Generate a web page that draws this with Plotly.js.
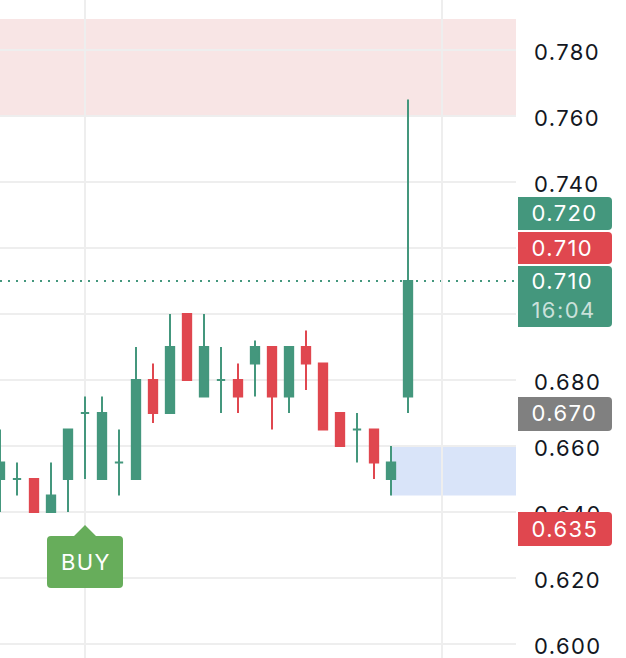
<!DOCTYPE html>
<html>
<head>
<meta charset="utf-8">
<script src="https://cdn.plot.ly/plotly-3.0.1.min.js"></script>
<style>
  html, body { margin: 0; padding: 0; background: #ffffff; }
  #chart { width: 626px; height: 658px; }
  #chart .ytick text, #chart .annotation-text { letter-spacing: 1.4px; }
</style>
</head>
<body>
<div id="chart"></div>
<script>
// ---------------- data ----------------
const candleIndex = [0,1,2,3,4,5,6,7,8,9,10,11,12,13,14,15,16,17,18,19,20,21,22,23,24];
const openVals  = [0.650,0.650,0.650,0.640,0.650,0.670,0.650,0.655,0.650,0.680,0.670,0.700,0.675,0.680,0.680,0.685,0.690,0.675,0.690,0.685,0.670,0.665,0.665,0.650,0.675];
const highVals  = [0.665,0.655,0.650,0.655,0.665,0.675,0.675,0.665,0.690,0.685,0.700,0.700,0.700,0.690,0.685,0.692,0.690,0.690,0.695,0.685,0.670,0.670,0.665,0.660,0.765];
const lowVals   = [0.640,0.645,0.640,0.640,0.640,0.650,0.650,0.645,0.650,0.667,0.670,0.680,0.675,0.670,0.670,0.675,0.665,0.670,0.677,0.665,0.660,0.655,0.650,0.645,0.670];
const closeVals = [0.655,0.650,0.640,0.645,0.665,0.670,0.670,0.655,0.680,0.670,0.690,0.680,0.690,0.680,0.675,0.690,0.675,0.690,0.685,0.665,0.660,0.665,0.655,0.655,0.710];

const yTickVals  = [0.600,0.620,0.640,0.660,0.680,0.700,0.720,0.740,0.760,0.780];
// 0.700 and 0.720 sit fully under the price labels, so their text is left empty
const yTickTexts = ["0.600","0.620","0.640","0.660","0.680","","","0.740","0.760","0.780"];
const gridXVals = [5, 26];

const resistanceZone = [0.760, 0.7894];   // pink band
const supportZone    = [0.645, 0.660];    // blue band
const supportStart   = 23;
const lastPrice      = 0.710;

// right-hand price labels: text, colour, centre value, box top px, box bottom px
const labelTexts  = ["0.720", "0.710", "0.710", "0.670", "0.635"];
const labelColors = ["#44977d", "#e0474f", "#44977d", "#808080", "#e0474f"];
const labelValues = [0.7305, 0.720, 0.710, 0.670, 0.6348];
const labelBoxTop = [197, 232, 266, 397, 512];
const labelBoxBot = [230, 264, 327, 431, 546];
const timeLabel   = "16:04";
const timeLabelValue = 0.7013;

const buyIndex = 5;
const buyText = "BUY";

// ---------------- styling ----------------
const GREEN = "#44977d", RED = "#e0474f", BUYGREEN = "#67ad5b";
const W = 626, H = 658, PLOT_W = 516;
const yRange = [0.59576, 0.79515];
const xRange = [0, PLOT_W / 17];
const pxPerY = H / (yRange[1] - yRange[0]);
const pxPerX = PLOT_W / (xRange[1] - xRange[0]);
const yAt = py => yRange[1] - py / pxPerY;      // pixel row -> value
const dy = p => p / pxPerY;                     // pixel height -> value
const dx = p => p / pxPerX;                     // pixel width -> x units
const px = p => p / PLOT_W;                     // pixel column -> paper x

const up = candleIndex.map(i => closeVals[i] >= openVals[i]);
function pick(arr, flag) { return arr.filter((_, i) => up[i] === flag); }

function candleTrace(flag, color) {
  const style = { line: { color: color, width: 2 }, fillcolor: color };
  return {
    type: "candlestick",
    x: pick(candleIndex, flag),
    open: pick(openVals, flag), high: pick(highVals, flag),
    low: pick(lowVals, flag), close: pick(closeVals, flag),
    increasing: style, decreasing: style,
    whiskerwidth: 0, hoverinfo: "skip", showlegend: false
  };
}

const shapes = [];
shapes.push({ type: "rect", xref: "x", yref: "y", x0: -1, x1: xRange[1] + 1,
  y0: resistanceZone[0], y1: resistanceZone[1], fillcolor: "#f8e5e5", line: { width: 0 }, layer: "below" });
shapes.push({ type: "rect", xref: "x", yref: "y", x0: supportStart, x1: xRange[1] + 1,
  y0: supportZone[0], y1: supportZone[1], fillcolor: "#d9e4f9", line: { width: 0 }, layer: "below" });
shapes.push({ type: "line", xref: "paper", yref: "y", x0: 0, x1: 1, y0: lastPrice, y1: lastPrice,
  line: { color: GREEN, width: 2, dash: "2px,6px" }, layer: "below" });

// right label boxes (square left, rounded right)
const r = 4;
labelTexts.forEach((t, i) => {
  const x0 = px(518), x1 = px(612), xr = px(612 - r);
  const yT = yAt(labelBoxTop[i]), yB = yAt(labelBoxBot[i]);
  const path = `M ${x0},${yT} L ${xr},${yT} Q ${x1},${yT} ${x1},${yT - dy(r)} ` +
               `L ${x1},${yB + dy(r)} Q ${x1},${yB} ${xr},${yB} L ${x0},${yB} Z`;
  shapes.push({ type: "path", xref: "paper", yref: "y", path: path,
    fillcolor: labelColors[i], line: { width: 0 }, layer: "above" });
});

// BUY marker box with pointer (pixel offsets relative to the marker candle)
(function () {
  const cx = buyIndex;
  const L = cx - dx(38), R = cx + dx(38);
  const T = yAt(536), B = yAt(588), tip = yAt(525);
  const rr = 4;
  const path = `M ${L + dx(rr)},${T} L ${cx - dx(11)},${T} L ${cx},${tip} L ${cx + dx(11)},${T} ` +
    `L ${R - dx(rr)},${T} Q ${R},${T} ${R},${T - dy(rr)} L ${R},${B + dy(rr)} Q ${R},${B} ${R - dx(rr)},${B} ` +
    `L ${L + dx(rr)},${B} Q ${L},${B} ${L},${B + dy(rr)} L ${L},${T - dy(rr)} Q ${L},${T} ${L + dx(rr)},${T} Z`;
  shapes.push({ type: "path", xref: "x", yref: "y", path: path, fillcolor: BUYGREEN, line: { width: 0 }, layer: "above" });
})();

const FONT = "Inter, 'Liberation Sans', sans-serif";
const annotations = labelTexts.map((t, i) => ({
  xref: "paper", yref: "y", x: px(533), y: labelValues[i], xanchor: "left", yanchor: "middle",
  text: t, showarrow: false, font: { family: FONT, size: 22, color: "#ffffff" }
}));
annotations.push({ xref: "paper", yref: "y", x: px(533), y: timeLabelValue, xanchor: "left", yanchor: "middle",
  text: timeLabel, showarrow: false, font: { family: FONT, size: 22, color: "rgba(255,255,255,0.72)" } });
annotations.push({ xref: "x", yref: "y", x: buyIndex + dx(1), y: yAt(562), xanchor: "center", yanchor: "middle",
  text: buyText, showarrow: false, font: { family: FONT, size: 22, color: "#ffffff" } });

const layout = {
  width: W, height: H,
  margin: { l: 0, r: W - PLOT_W, t: 0, b: 0, pad: 0 },
  paper_bgcolor: "#ffffff", plot_bgcolor: "#ffffff",
  showlegend: false, hovermode: false, dragmode: false,
  xaxis: {
    range: xRange, rangeslider: { visible: false },
    tickmode: "array", tickvals: gridXVals, showticklabels: false, ticks: "",
    showgrid: true, gridcolor: "#eeeeee", gridwidth: 1.5, zeroline: false, showline: false, fixedrange: true
  },
  yaxis: {
    range: yRange, side: "right",
    tickmode: "array", tickvals: yTickVals, ticktext: yTickTexts, ticks: "",
    ticklabelstandoff: 17, ticklabelshift: 2, ticklabeloverflow: "allow",
    tickfont: { family: FONT, size: 22, color: "#131722" },
    showgrid: true, gridcolor: "#eeeeee", gridwidth: 1.5, zeroline: false, showline: false, fixedrange: true
  },
  shapes: shapes,
  annotations: annotations
};

Plotly.newPlot("chart", [candleTrace(true, GREEN), candleTrace(false, RED)], layout,
  { displayModeBar: false, staticPlot: true });
</script>
</body>
</html>
